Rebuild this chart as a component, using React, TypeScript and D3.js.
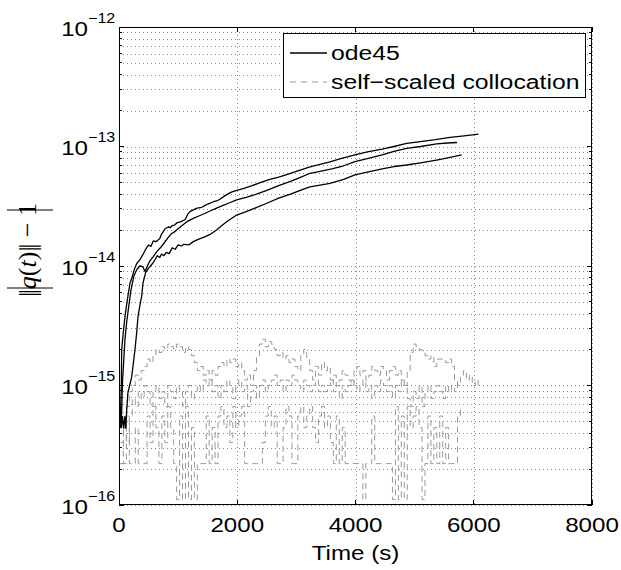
import * as d3 from "d3";

// ode45 runs: output times (s) and |‖q‖-1|
const odeTimesA = [20, 30, 40, 45, 60, 80, 100, 130, 160, 186, 220, 260, 300, 350, 406, 450, 500, 540, 580, 620, 650, 690, 720, 780, 834, 870, 900, 940, 980, 1050, 1120, 1160, 1200, 1257, 1320, 1400, 1450, 1500, 1600, 1650, 1700, 1800, 1900, 1990, 2100, 2250, 2400, 2550, 2700, 2850, 3000, 3230, 3400, 3569, 3750, 3990, 4200, 4450, 4650, 4865, 5100, 5350, 5597, 5800, 6080];
const odeErrA = [4.4e-16, 7e-16, 1.05e-15, 1.98e-15, 2.4e-15, 3.0e-15, 3.74e-15, 4.8e-15, 6.0e-15, 7.2e-15, 8.0e-15, 9.4e-15, 1.05e-14, 1.12e-14, 1.25e-14, 1.38e-14, 1.5e-14, 1.46e-14, 1.62e-14, 1.6e-14, 1.63e-14, 1.7e-14, 1.85e-14, 2.05e-14, 2.12e-14, 2.1e-14, 2.18e-14, 2.2e-14, 2.3e-14, 2.35e-14, 2.45e-14, 2.7e-14, 2.85e-14, 2.95e-14, 3.05e-14, 3.1e-14, 3.2e-14, 3.3e-14, 3.45e-14, 3.5e-14, 3.6e-14, 3.9e-14, 4.15e-14, 4.3e-14, 4.45e-14, 4.7e-14, 5.0e-14, 5.3e-14, 5.55e-14, 5.85e-14, 6.2e-14, 6.75e-14, 7.1e-14, 7.45e-14, 7.9e-14, 8.5e-14, 9.0e-14, 9.5e-14, 1.0e-13, 1.06e-13, 1.1e-13, 1.14e-13, 1.19e-13, 1.22e-13, 1.27e-13];

const odeTimesB = [30, 45, 60, 80, 100, 130, 160, 200, 250, 300, 350, 400, 440, 480, 520, 580, 640, 700, 760, 820, 880, 950, 1050, 1150, 1257, 1350, 1450, 1550, 1650, 1750, 1850, 1990, 2150, 2300, 2500, 2700, 2900, 3100, 3230, 3400, 3600, 3800, 3990, 4200, 4450, 4650, 4865, 5100, 5372, 5550, 5717];
const odeErrB = [4.4e-16, 6e-16, 1.1e-15, 1.6e-15, 2.4e-15, 3.4e-15, 4.4e-15, 6.2e-15, 8.2e-15, 9.3e-15, 1.0e-14, 9.9e-15, 9.0e-15, 1.0e-14, 1.1e-14, 1.2e-14, 1.32e-14, 1.42e-14, 1.55e-14, 1.7e-14, 1.85e-14, 1.95e-14, 2.15e-14, 2.35e-14, 2.5e-14, 2.62e-14, 2.75e-14, 2.9e-14, 3.05e-14, 3.2e-14, 3.35e-14, 3.57e-14, 3.75e-14, 3.95e-14, 4.3e-14, 4.7e-14, 5.1e-14, 5.6e-14, 5.97e-14, 6.2e-14, 6.5e-14, 6.9e-14, 7.46e-14, 7.9e-14, 8.5e-14, 9.1e-14, 9.66e-14, 1.0e-13, 1.05e-13, 1.07e-13, 1.08e-13];

const odeTimesC = [40, 60, 80, 100, 115, 130, 150, 180, 215, 240, 270, 300, 321, 350, 384, 406, 450, 500, 575, 650, 690, 720, 760, 800, 850, 900, 950, 1000, 1050, 1100, 1180, 1257, 1350, 1450, 1550, 1650, 1750, 1850, 1990, 2150, 2300, 2500, 2700, 2900, 3100, 3230, 3400, 3569, 3800, 3990, 4200, 4450, 4650, 4865, 5100, 5372, 5600, 5795];
const odeErrC = [4.4e-16, 5.5e-16, 4.4e-16, 5.5e-16, 4.4e-16, 6.2e-16, 8.65e-16, 1.0e-15, 1.18e-15, 1.5e-15, 2.0e-15, 2.8e-15, 3.74e-15, 4.6e-15, 5.6e-15, 7.2e-15, 8.8e-15, 9.6e-15, 1.06e-14, 1.22e-14, 1.18e-14, 1.26e-14, 1.22e-14, 1.3e-14, 1.27e-14, 1.42e-14, 1.38e-14, 1.5e-14, 1.47e-14, 1.52e-14, 1.5e-14, 1.6e-14, 1.68e-14, 1.75e-14, 1.85e-14, 2.0e-14, 2.2e-14, 2.4e-14, 2.67e-14, 2.85e-14, 3.05e-14, 3.35e-14, 3.7e-14, 4.0e-14, 4.35e-14, 4.6e-14, 4.75e-14, 4.92e-14, 5.3e-14, 5.78e-14, 6.1e-14, 6.5e-14, 6.8e-14, 7.0e-14, 7.3e-14, 7.7e-14, 8.1e-14, 8.5e-14];

// self-scaled collocation: error in units of eps, sampled every 50 s from t = 25 s
const EPS = 1.1102e-16;
const SAMPLE_START = 25;
const SAMPLE_STEP = 50;
const collocUpper = [3, 4, 6, 8, 9, 11, 10, 12, 13, 15, 14, 16, 18, 17, 19, 18, 20, 19, 18, 20, 19, 17, 19, 18, 16, 14, 12, 13, 11, 12, 10, 12, 11, 13, 14, 13, 15, 14, 15, 13, 14, 12, 10, 11, 9, 12, 16, 20, 22, 19, 21, 20, 18, 16, 17, 15, 16, 14, 15, 13, 12, 16, 18, 15, 12, 10, 13, 11, 14, 12, 13, 10, 11, 9, 10, 12, 11, 10, 9, 12, 13, 11, 12, 10, 11, 13, 12, 11, 13, 12, 10, 12, 13, 11, 12, 10, 9, 12, 17, 20, 19, 18, 17, 16, 15, 16, 13, 15, 15, 15, 14, 15, 13, 10, 9, 11, 12, 10, 11, 9, 10, 9];
const collocMiddle = [2, 4, 3, 5, 7, 6, 8, 7, 9, 8, 6, 8, 9, 7, 8, 6, 9, 8, 7, 9, 8, 6, 8, 9, 7, 8, 9, 8, 10, 9, 10, 8, 9, 7, 9, 8, 10, 9, 7, 9, 10, 8, 9, 6, 8, 9, 7, 9, 10, 8, 9, 10, 11, 9, 10, 8, 10, 9, 11, 10, 9, 8, 10, 9, 8, 9, 10, 8, 9, 8, 9, 10, 8, 9, 7, 9, 8, 9, 10, 9, 8, 9, 10, 8, 9, 7, 9, 8, 10, 9, 8, 9, 7, 9, 8, 10, 9, 7, 6, 8, 7, 9, 6, 8, 9, 7, 8, 9, 8, 7, 9, 8, 9, 8, 9];
const collocLower = [2, 2, 5, 2, 2, 4, 2, 2, 2, 5, 3, 6, 4, 2, 5, 3, 6, 4, 2, 1, 5, 1, 6, 1, 4, 1, 2, 2, 2, 5, 2, 4, 2, 5, 6, 4, 5, 3, 6, 4, 5, 6, 2, 2, 2, 2, 2, 2, 3, 5, 6, 4, 5, 2, 2, 4, 6, 5, 2, 2, 5, 6, 4, 5, 6, 4, 3, 5, 6, 4, 5, 3, 2, 5, 2, 4, 2, 2, 2, 2, 2, 2, 1, 2, 2, 5, 2, 2, 2, 2, 2, 2, 1, 6, 1, 5, 1, 6, 4, 5, 6, 4, 1, 2, 5, 2, 4, 2, 5, 2, 4, 2, 2, 2, 5, 6];

const xTicks = [0, 2000, 4000, 6000, 8000];
const yDecades = [-16, -15, -14, -13, -12];
const legendLabels = ["ode45", "self\u2212scaled collocation"];

const W = 621, H = 570;
const L = 119, R = 592, T = 27, B = 505;
const FONT = "'Liberation Sans', Arial, Helvetica, sans-serif";
const SERIF = "'Liberation Serif', 'DejaVu Serif', serif";
const SX = 1.15; // picture is slightly stretched sideways
const GRAY = "#999";

export default function App() {
  const x = d3.scaleLinear().domain([0, 8000]).range([L, R]);
  const y = d3.scaleLog().domain([1e-16, 1e-12]).range([B, T]);

  const line = d3.line<[number, number]>().x(d => x(d[0])).y(d => y(d[1]));
  const stepLine = d3.line<[number, number]>().x(d => x(d[0])).y(d => y(d[1])).curve(d3.curveStepAfter);

  const odeRuns: [number, number][][] = [
    odeTimesA.map((t, i) => [t, odeErrA[i]]),
    odeTimesB.map((t, i) => [t, odeErrB[i]]),
    odeTimesC.map((t, i) => [t, odeErrC[i]]),
  ];
  const collocRuns: [number, number][][] = [collocLower, collocMiddle, collocUpper].map(ks =>
    ks.map((k, i) => [SAMPLE_START + i * SAMPLE_STEP, k * EPS] as [number, number])
  );

  const majorY = yDecades.map(e => Math.pow(10, e));
  const minorY: number[] = [];
  yDecades.slice(0, -1).forEach(e => {
    for (let m = 2; m <= 9; m++) minorY.push(m * Math.pow(10, e));
  });

  return (
    <svg width={W} height={H} style={{ position: "absolute", left: 0, top: 0, background: "#fff" }}>
      <defs>
        <clipPath id="plotArea">
          <rect x={L} y={T} width={R - L} height={B - T} />
        </clipPath>
      </defs>
      <rect x={0} y={0} width={W} height={H} fill="#fff" />

      {/* grid */}
      <g stroke="#888" strokeWidth={1} strokeDasharray="1,3" shapeRendering="crispEdges">
        {[...majorY, ...minorY].map((v, i) => (
          <line key={"gy" + i} x1={L} x2={R} y1={Math.round(y(v)) + 0.5} y2={Math.round(y(v)) + 0.5} />
        ))}
        {xTicks.map(t => (
          <line key={"gx" + t} x1={Math.round(x(t)) + 0.5} x2={Math.round(x(t)) + 0.5} y1={T} y2={B} />
        ))}
      </g>

      {/* data */}
      <g clipPath="url(#plotArea)" fill="none">
        {collocRuns.map((run, i) => (
          <path key={"c" + i} d={stepLine(run) || ""} stroke={GRAY} strokeWidth={1} strokeDasharray="6,4" />
        ))}
        {odeRuns.map((run, i) => (
          <path key={"o" + i} d={line(run) || ""} stroke="#000" strokeWidth={1.3} strokeLinejoin="round" />
        ))}
      </g>

      {/* axes box and ticks */}
      <g stroke="#000" strokeWidth={1} shapeRendering="crispEdges">
        <rect x={L + 0.5} y={T + 0.5} width={R - L - 1} height={B - T - 1} fill="none" />
        {majorY.map((v, i) => (
          <g key={"ty" + i}>
            <line x1={L} x2={L + 5} y1={y(v)} y2={y(v)} />
            <line x1={R - 5} x2={R} y1={y(v)} y2={y(v)} />
          </g>
        ))}
        {minorY.map((v, i) => (
          <g key={"tm" + i}>
            <line x1={L} x2={L + 3} y1={y(v)} y2={y(v)} />
            <line x1={R - 3} x2={R} y1={y(v)} y2={y(v)} />
          </g>
        ))}
        {xTicks.map(t => (
          <g key={"tx" + t}>
            <line x1={x(t)} x2={x(t)} y1={B} y2={B - 5} />
            <line x1={x(t)} x2={x(t)} y1={T} y2={T + 5} />
          </g>
        ))}
      </g>

      {/* y tick labels */}
      {yDecades.map(e => (
        <g key={"ly" + e} transform={`translate(88,${y(Math.pow(10, e))}) scale(${SX},1)`} fontFamily={FONT} fill="#000">
          <text x={0} y={8.5} fontSize={21} textAnchor="end">10</text>
          <text x={0} y={-4.5} fontSize={14} textAnchor="start">{"\u2212" + Math.abs(e)}</text>
        </g>
      ))}

      {/* x tick labels */}
      {xTicks.map(t => (
        <g key={"lx" + t} transform={`translate(${x(t)},532) scale(${SX},1)`}>
          <text fontFamily={FONT} fontSize={21} textAnchor="middle" fill="#000">{t}</text>
        </g>
      ))}

      {/* x label */}
      <g transform={`translate(${(L + R) / 2},560) scale(${SX},1)`}>
        <text fontFamily={FONT} fontSize={21} textAnchor="middle" fill="#000">Time (s)</text>
      </g>

      {/* y label: | ‖q(t)‖ − 1 | */}
      <g transform="translate(30,249) rotate(-90)">
        <line x1={-39} x2={-39} y1={-23} y2={23} stroke="#000" strokeWidth={1.1} />
        <line x1={39} x2={39} y1={-23} y2={23} stroke="#000" strokeWidth={1.1} />
        <text x={-1} y={6} textAnchor="middle" fontFamily={SERIF} fontSize={26} fill="#000">
          <tspan letterSpacing={-2.5}>||</tspan>
          <tspan dx={2.5} fontStyle="italic">q</tspan>
          <tspan>(</tspan>
          <tspan fontStyle="italic">t</tspan>
          <tspan>)</tspan>
          <tspan letterSpacing={-2.5}>||</tspan>
          <tspan dx={2.5}>{" \u2212 1"}</tspan>
        </text>
      </g>

      {/* legend */}
      <g>
        <rect x={283.5} y={33.5} width={302} height={64} fill="#fff" stroke="#000" strokeWidth={1} shapeRendering="crispEdges" />
        <line x1={290} x2={327} y1={53} y2={53} stroke="#000" strokeWidth={1.3} />
        <line x1={290} x2={327} y1={82} y2={82} stroke={GRAY} strokeWidth={1} strokeDasharray="6,5" />
        {legendLabels.map((lab, i) => (
          <g key={lab} transform={`translate(331,${60 + i * 28.5}) scale(1.18,1)`}>
            <text fontFamily={FONT} fontSize={21} fill="#000">{lab}</text>
          </g>
        ))}
      </g>
    </svg>
  );
}
